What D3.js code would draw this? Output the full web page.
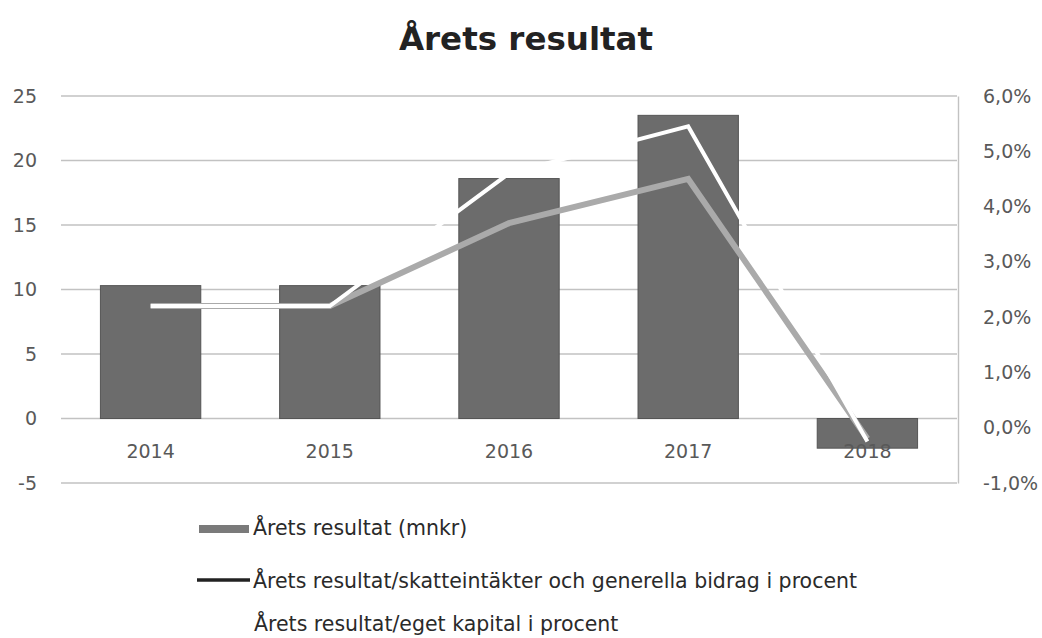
<!DOCTYPE html>
<html><head><meta charset="utf-8">
<script src="https://cdn.jsdelivr.net/npm/d3@7"></script>
<style>body{margin:0;background:#fff}svg{display:block}text{font-family:"DejaVu Sans",sans-serif}</style>
</head><body>
<svg id="c" width="1042" height="638"></svg>
<script>
const years = ["2014","2015","2016","2017","2018"];
const resultat = [10.3, 10.3, 18.6, 23.5, -2.3];
const skattePct = [2.2, 2.2, 3.7, 4.5, -0.2];
const egetPct = [2.2, 2.2, 4.6, 5.45, -0.25];
const leftTicks = [-5, 0, 5, 10, 15, 20, 25];
const rightTicks = [-1, 0, 1, 2, 3, 4, 5, 6];
const legendLabels = ["Årets resultat (mnkr)", "Årets resultat/skatteintäkter och generella bidrag i procent", "Årets resultat/eget kapital i procent"];

const svg = d3.select("#c");
const x = d3.scaleBand().domain(years).range([61, 957]).paddingInner(0.44).paddingOuter(0.22);
const yL = d3.scaleLinear().domain([-5, 25]).range([483, 96]);
const yR = d3.scaleLinear().domain([-1, 6]).range([483, 96]);

svg.append("text").attr("x", 526).attr("y", 50).attr("text-anchor", "middle")
  .attr("font-size", 32.5).attr("font-weight", "bold").attr("fill", "#222").text("Årets resultat");

// gridlines
svg.append("g").selectAll("line").data(leftTicks).join("line")
  .attr("x1", 61).attr("x2", 957).attr("y1", d => yL(d)).attr("y2", d => yL(d))
  .attr("stroke", "#c2c2c2").attr("stroke-width", 1.4);

// left axis labels
const axL = svg.append("g").attr("transform", "translate(37,0)")
  .call(d3.axisLeft(yL).tickValues(leftTicks).tickFormat(d => String(d)).tickSize(0).tickPadding(0));
axL.select(".domain").remove();
axL.selectAll("text").attr("font-size", 19).attr("fill", "#595959").attr("font-family", "DejaVu Sans,sans-serif");

// right axis
const fmt = d => d.toFixed(1).replace(".", ",") + "%";
const axR = svg.append("g").attr("transform", "translate(958,0)")
  .call(d3.axisRight(yR).tickValues(rightTicks).tickFormat(fmt).tickSize(0).tickPadding(25));
axR.select(".domain").attr("stroke", "#c2c2c2").attr("stroke-width", 1.4);
axR.selectAll("text").attr("font-size", 19).attr("fill", "#595959").attr("font-family", "DejaVu Sans,sans-serif");

// bars
svg.append("g").selectAll("rect").data(years).join("rect")
  .attr("x", d => x(d)).attr("width", x.bandwidth())
  .attr("y", (d, i) => yL(Math.max(0, resultat[i])))
  .attr("height", (d, i) => Math.abs(yL(resultat[i]) - yL(0)))
  .attr("fill", "#6c6c6c").attr("stroke", "#555").attr("stroke-width", 1);

// x labels
svg.append("g").selectAll("text").data(years).join("text")
  .attr("x", d => x(d) + x.bandwidth() / 2).attr("y", 458).attr("text-anchor", "middle")
  .attr("font-size", 19).attr("fill", "#595959").text(d => d);

const line = d3.line().x((d, i) => x(years[i]) + x.bandwidth() / 2).y(d => yR(d));
svg.append("path").datum(skattePct).attr("d", line).attr("fill", "none")
  .attr("stroke", "#aaaaaa").attr("stroke-width", 6).attr("stroke-linejoin", "miter");
svg.append("path").datum(egetPct).attr("d", line).attr("fill", "none")
  .attr("stroke", "#ffffff").attr("stroke-width", 4).attr("stroke-linejoin", "miter");

// legend
const lg = svg.append("g");
lg.append("rect").attr("x", 199).attr("y", 525).attr("width", 50).attr("height", 8).attr("fill", "#7a7a7a");
lg.append("line").attr("x1", 197).attr("x2", 250).attr("y1", 580).attr("y2", 580).attr("stroke", "#222").attr("stroke-width", 3.5);
lg.selectAll("text").data(legendLabels).join("text")
  .attr("x", (d, i) => [253, 253, 254][i]).attr("y", (d, i) => [535, 588, 631][i])
  .attr("font-size", 20.5).attr("fill", "#2a2a2a").text(d => d);
</script>
</body></html>
